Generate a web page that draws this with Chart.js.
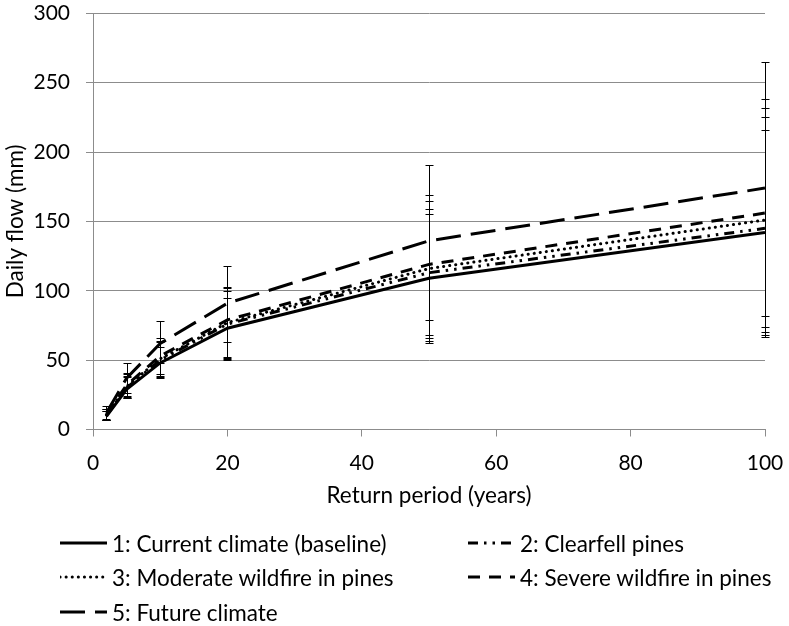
<!DOCTYPE html>
<html>
<head>
<meta charset="utf-8">
<script src="https://cdn.jsdelivr.net/npm/chart.js@4/dist/chart.umd.min.js"></script>
<style>
  html, body { margin: 0; padding: 0; background: #fff; }
  #wrap { position: relative; width: 789px; height: 626px; font-family: Lato, "Liberation Sans", sans-serif; }
  #c { position: absolute; left: 0; top: 0; }
  .lg { position: absolute; height: 28px; display: flex; align-items: center; font-size: 22.5px; color: #000; white-space: nowrap; }
  .lg svg { display: block; margin-right: 5px; }
</style>
</head>
<body>
<div id="wrap">
  <canvas id="c" width="789" height="626"></canvas>
</div>
<script>
// ---- data ----
const returnPeriods = [2, 5, 10, 20, 50, 100];
const seriesNames = [
  "1: Current climate (baseline)",
  "2: Clearfell pines",
  "3: Moderate wildfire in pines",
  "4: Severe wildfire in pines",
  "5: Future climate"
];
const currentFlow   = [9.5, 29, 48, 73, 109, 142];
const clearfellFlow = [10, 30, 50, 76, 113, 145];
const moderateFlow  = [10.5, 31, 51, 77, 116, 151];
const severeFlow    = [11, 32, 53, 79, 119, 156];
const futureFlow    = [12, 37, 62, 91, 136, 174];

const currentHigh   = [13, 37.5, 59.6, 95, 155, 216];
const currentLow    = [6.5, 22.4, 36.8, 50, 62, 66.5];
const clearfellHigh = [13.5, 38.5, 63, 100, 159, 225];
const clearfellLow  = [6.8, 23, 37.5, 51, 64, 68];
const moderateHigh  = [14.5, 40, 64, 102, 165, 232];
const moderateLow   = [7, 23.5, 38.5, 51.5, 66, 70];
const severeHigh    = [14.5, 41, 65.6, 103, 169, 238];
const severeLow     = [7.5, 24, 40, 52.4, 68, 73.7];
const futureHigh    = [17, 48, 78, 118, 191, 265];
const futureLow     = [7, 26, 47.6, 63, 79, 82];

const xTickStep = 20, xMin = 0, xMax = 100;
const yTickStep = 50, yMin = 0, yMax = 300;
const xTitle = "Return period (years)";
const yTitle = "Daily flow (mm)";

// ---- styling ----
const dashes = [[], [10, 6, 2.5, 6, 2.5, 6], [0.1, 6], [12, 9], [25, 10]];
const caps = ['butt', 'butt', 'round', 'butt', 'butt'];
const values = [currentFlow, clearfellFlow, moderateFlow, severeFlow, futureFlow];
const highs = [currentHigh, clearfellHigh, moderateHigh, severeHigh, futureHigh];
const lows = [currentLow, clearfellLow, moderateLow, severeLow, futureLow];

const datasets = values.map((arr, i) => ({
  label: seriesNames[i],
  data: arr.map((v, j) => ({ x: returnPeriods[j], y: v })),
  borderColor: '#000',
  backgroundColor: '#000',
  borderWidth: 3,
  borderDash: dashes[i],
  borderCapStyle: caps[i],
  pointRadius: 0,
  tension: 0,
  fill: false,
  errHigh: highs[i],
  errLow: lows[i]
}));

const errorBars = {
  id: 'errorBars',
  beforeDatasetsDraw(chart) {
    const { ctx, scales: { x, y } } = chart;
    ctx.save();
    ctx.strokeStyle = '#000';
    ctx.lineWidth = 1;
    chart.data.datasets.forEach(ds => {
      ds.data.forEach((p, j) => {
        const px = Math.round(x.getPixelForValue(p.x)) + 0.5;
        const yh = Math.round(y.getPixelForValue(ds.errHigh[j])) + 0.5;
        const yl = Math.round(y.getPixelForValue(ds.errLow[j])) + 0.5;
        ctx.beginPath();
        ctx.moveTo(px, yh); ctx.lineTo(px, yl);
        ctx.moveTo(px - 4, yh); ctx.lineTo(px + 4, yh);
        ctx.moveTo(px - 4, yl); ctx.lineTo(px + 4, yl);
        ctx.stroke();
      });
    });
    ctx.restore();
  }
};

const tickFont = { family: 'Lato', size: 21 };
const titleFont = { family: 'Lato', size: 22.5 };

new Chart(document.getElementById('c'), {
  type: 'line',
  data: { datasets },
  plugins: [errorBars],
  options: {
    responsive: false,
    animation: false,
    devicePixelRatio: 1,
    layout: { padding: { left: 0, right: 24, top: 13.3, bottom: 116.5 } },
    plugins: { legend: { display: false }, tooltip: { enabled: false } },
    scales: {
      x: {
        type: 'linear', min: xMin, max: xMax,
        ticks: { stepSize: xTickStep, color: '#000', font: tickFont, padding: 14, maxRotation: 0 },
        grid: { drawOnChartArea: false, drawTicks: true, tickLength: 7, color: '#8c8c8c' },
        border: { color: '#8c8c8c', width: 1 },
        title: { display: true, text: xTitle, color: '#000', font: titleFont, padding: { top: 0, bottom: 0 } },
        afterFit(scale) { scale.height = 80; scale.paddingLeft = 0; scale.paddingRight = 0; }
      },
      y: {
        type: 'linear', min: yMin, max: yMax,
        ticks: { stepSize: yTickStep, color: '#000', font: tickFont, padding: 16 },
        grid: { drawTicks: true, tickLength: 7, color: '#8c8c8c' },
        border: { color: '#8c8c8c', width: 1 },
        title: { display: true, text: yTitle, color: '#000', font: titleFont, padding: { top: 2, bottom: 0 } },
        afterFit(scale) { scale.width = 93; scale.paddingTop = 0; scale.paddingBottom = 0; }
      }
    }
  }
});

// ---- legend (HTML, two columns) ----
const legendPos = [
  { left: 60, top: 543 }, { left: 468, top: 543 },
  { left: 60, top: 577 }, { left: 468, top: 577 },
  { left: 60, top: 612 }
];
const wrap = document.getElementById('wrap');
seriesNames.forEach((name, i) => {
  const d = document.createElement('div');
  d.className = 'lg';
  d.style.left = legendPos[i].left + 'px';
  d.style.top = (legendPos[i].top - 14) + 'px';
  const da = dashes[i].length ? dashes[i].join(' ') : 'none';
  d.innerHTML = '<svg width="47" height="6"><line x1="0" y1="3" x2="47" y2="3" stroke="#000" stroke-width="3" stroke-dasharray="' + da + '" stroke-linecap="' + caps[i] + '"/></svg><span></span>';
  d.querySelector('span').textContent = name;
  wrap.appendChild(d);
});
</script>
</body>
</html>
